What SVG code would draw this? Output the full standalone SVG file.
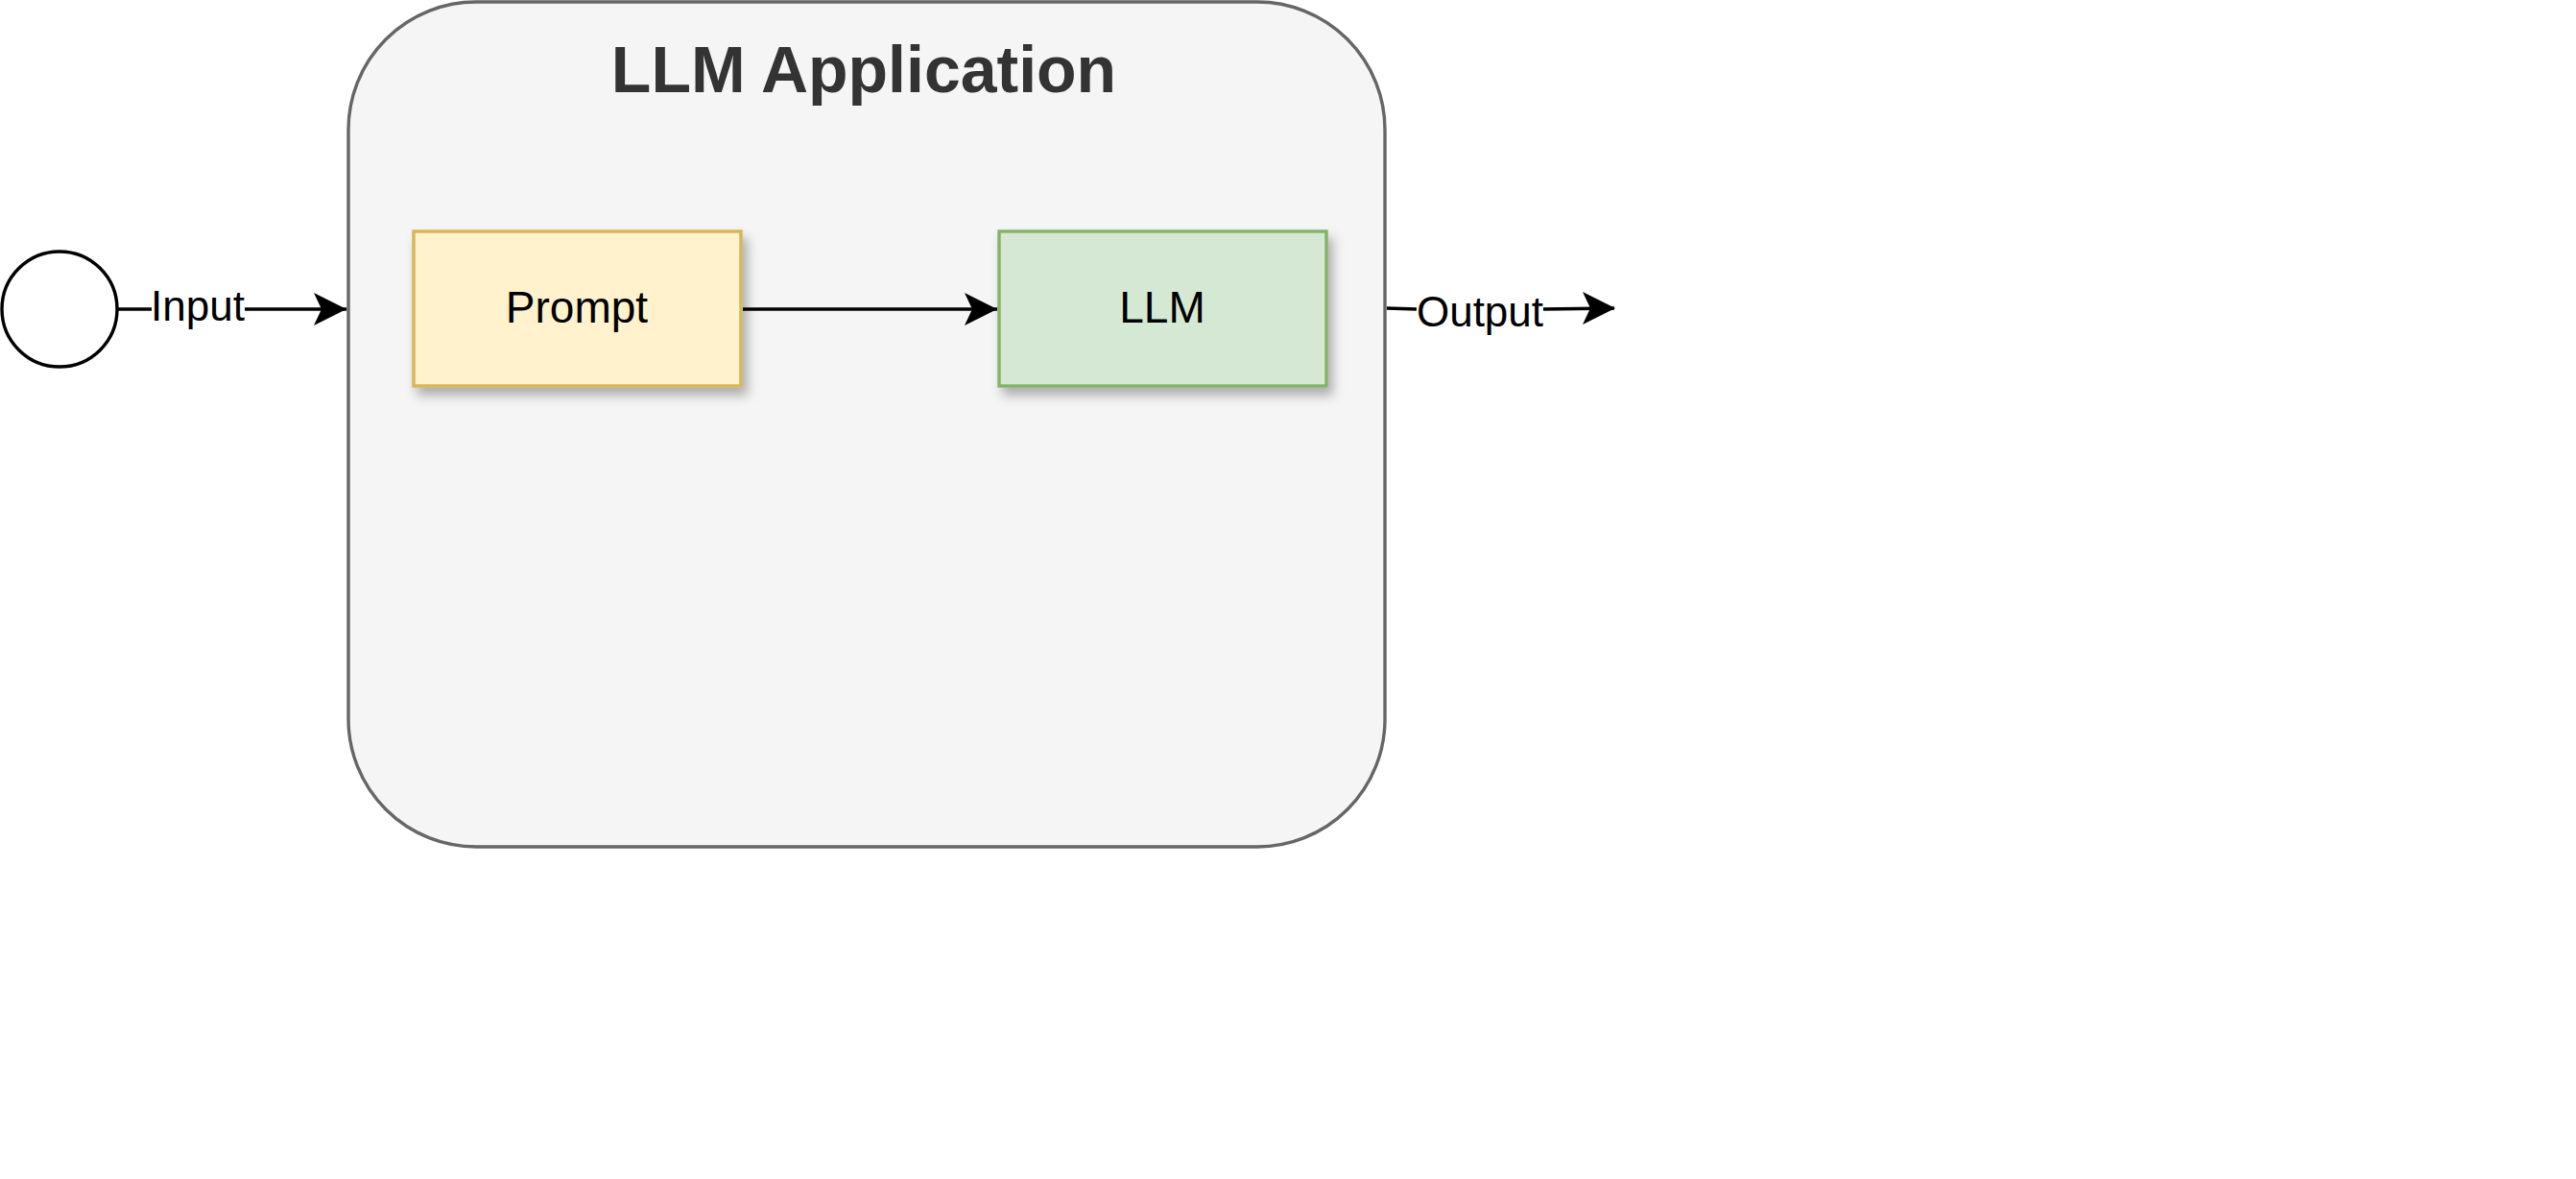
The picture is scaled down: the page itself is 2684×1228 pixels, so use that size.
<svg xmlns="http://www.w3.org/2000/svg" width="2684" height="1228" viewBox="0 0 2684 1228">
<style>
text{font-family:"Liberation Sans",Arial,sans-serif;text-anchor:middle;dominant-baseline:central}
.lbl{font-size:44px;fill:#000}
.edge{stroke:#000;stroke-width:3.4;fill:none}
</style>
<defs>
<marker id="arr" viewBox="0 0 20 20" refX="19" refY="10" markerWidth="12" markerHeight="12" markerUnits="userSpaceOnUse" orient="auto" overflow="visible">
<path d="M0,0 L20,10 L0,20 L6,10 Z" fill="#000" transform="scale(2)translate(-10,-5)"/>
</marker>
<filter id="sh" x="-10%" y="-10%" width="130%" height="140%"><feDropShadow dx="5" dy="8" stdDeviation="6" flood-color="#000" flood-opacity="0.3"/></filter>
</defs>
<rect width="2684" height="1228" fill="#fff"/>
<g id="container">
<rect x="363" y="2" width="1080" height="880" rx="133" ry="133" fill="#f5f5f5" stroke="#666" stroke-width="3.4"/>
<text x="900" y="72" font-size="68" font-weight="bold" fill="#333">LLM Application</text>
</g>
<g id="start"><circle cx="62" cy="322" r="60" fill="#fff" stroke="#000" stroke-width="3.4"/></g>
<g id="prompt"><rect x="431" y="241" width="341" height="161" fill="#fff2cc" stroke="#d6b656" stroke-width="3.4" filter="url(#sh)"/>
<text x="601" y="320" font-size="46">Prompt</text></g>
<g id="llm"><rect x="1041" y="241" width="341" height="161" fill="#d5e8d4" stroke="#82b366" stroke-width="3.4" filter="url(#sh)"/>
<text x="1211" y="320" font-size="46">LLM</text></g>
<g id="connectors">
<path class="edge" d="M122,322 L158,322 M255,322 L361,322"/>
<path d="M361,322 l-34,-17 l8,17 l-8,17 z" fill="#000"/>
<text class="lbl" x="206" y="318">Input</text>
<path class="edge" d="M774,322 L1039,322"/>
<path d="M1039,322 l-34,-17 l8,17 l-8,17 z" fill="#000"/>
<path class="edge" d="M1445,321 L1476,322 M1608,322 L1682,321"/>
<path d="M1683,321 l-34,-17 l8,17 l-8,17 z" fill="#000"/>
<text class="lbl" x="1542" y="324">Output</text>
</g>
</svg>
